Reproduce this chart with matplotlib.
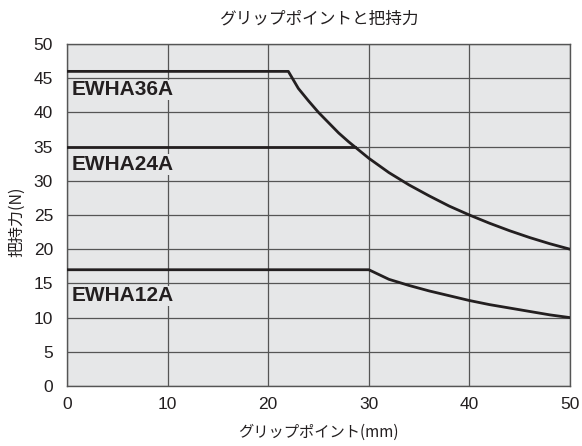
import matplotlib
matplotlib.use("Agg")
import matplotlib.pyplot as plt

plt.rcParams['font.family'] = ['Liberation Sans', 'Noto Sans CJK JP', 'DejaVu Sans']

# values
x_36 = [0, 22, 23, 24, 25, 26, 27, 28, 29, 30, 32, 34, 36, 38, 40, 42, 44, 46, 48, 50]
y_36 = [46, 46, 43.5, 41.7, 40.0, 38.5, 37.0, 35.7, 34.5, 33.3, 31.2, 29.4, 27.8, 26.3,
        25.0, 23.8, 22.7, 21.7, 20.8, 20.0]
x_24 = [0, 28.6]
y_24 = [35, 35]
x_12 = [0, 30, 32, 34, 36, 38, 40, 42, 44, 46, 48, 50]
y_12 = [17, 17, 15.6, 14.7, 13.9, 13.2, 12.5, 11.9, 11.4, 10.9, 10.4, 10.0]

labels = ["EWHA36A", "EWHA24A", "EWHA12A"]
label_y = [43.3, 32.4, 13.2]

xticks = [0, 10, 20, 30, 40, 50]
yticks = [0, 5, 10, 15, 20, 25, 30, 35, 40, 45, 50]

fig = plt.figure(figsize=(5.82, 4.46), dpi=100)
ax = fig.add_axes([0.1151, 0.1345, 0.8643, 0.7668])
ax.set_facecolor("#e6e7e8")

ax.set_xlim(0, 50)
ax.set_ylim(0, 50)
ax.set_xticks(xticks)
ax.set_yticks(yticks)
ax.tick_params(length=0, labelsize=12.5, colors="#231f20")
ax.tick_params(axis="y", pad=10)
ax.tick_params(axis="x", pad=8)
ax.grid(True, color="#555555", linewidth=0.9)
ax.set_axisbelow(True)
for s in ax.spines.values():
    s.set_color("#555555")
    s.set_linewidth(1.0)

for xs, ys in [(x_36, y_36), (x_24, y_24), (x_12, y_12)]:
    ax.plot(xs, ys, color="#231f20", linewidth=2.0, zorder=3)

for lab, ly in zip(labels, label_y):
    ax.text(0.45, ly, lab, fontsize=15, fontweight="bold", color="#231f20",
            va="center", ha="left", zorder=4,
            bbox=dict(facecolor="#e6e7e8", edgecolor="none", pad=0.5))

jp = ['Noto Sans CJK JP', 'DejaVu Sans']
cx = 0.1151 + 0.8643 / 2
fig.text(cx, 0.957, "グリップポイントと把持力", ha="center", va="center",
         fontsize=12, family=jp, color="#231f20")
fig.text(cx, 0.031, "グリップポイント(mm)", ha="center", va="center",
         fontsize=11, family=jp, color="#231f20")
fig.text(0.029, 0.502, "把持力(N)", ha="center", va="center", rotation=90,
         fontsize=11.5, family=jp, color="#231f20")

fig.savefig("out.png", dpi=100)
